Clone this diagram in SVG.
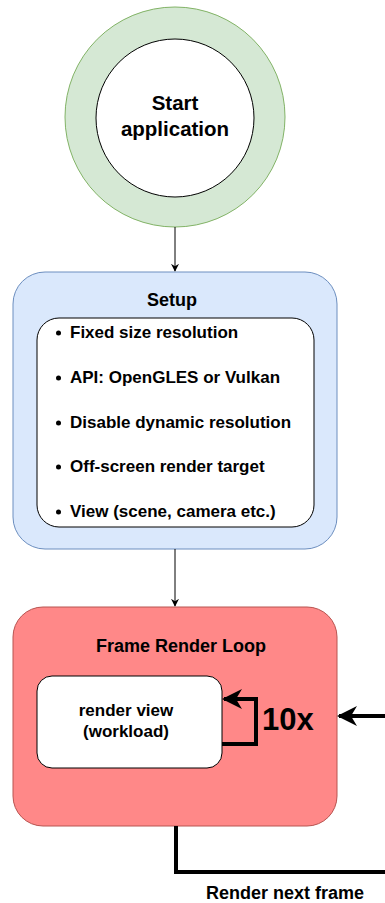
<svg xmlns="http://www.w3.org/2000/svg" width="385" height="903" viewBox="0 0 385 903">
<defs>
<style>
text{font-family:"Liberation Sans",Arial,sans-serif;font-weight:bold;fill:#000}
.b{font-size:17px}
.h{font-size:18px}
.thin{stroke:#000;stroke-width:1;fill:none}
.thick{stroke:#000;stroke-width:4;fill:none}
</style>
<marker id="ah" viewBox="0 0 10 10" refX="9" refY="5" markerWidth="8" markerHeight="8" markerUnits="userSpaceOnUse" orient="auto"><path d="M0,0 L10,5 L0,10 L3,5 Z" fill="#000"/></marker>
<marker id="ahb" viewBox="0 0 10 10" refX="9" refY="5" markerWidth="20" markerHeight="20" markerUnits="userSpaceOnUse" orient="auto"><path d="M0,0 L10,5 L0,10 L3,5 Z" fill="#000"/></marker>
</defs>
<g id="start">
<circle cx="175" cy="117" r="110" fill="#d5e8d4" stroke="#82b366"/>
<circle cx="175" cy="118" r="79" fill="#fff" stroke="#000"/>
<text x="175" y="110" font-size="20.5" text-anchor="middle">Start</text>
<text x="175" y="136" font-size="20.5" text-anchor="middle">application</text>
</g>
<g id="setup">
<rect x="13" y="272" width="324" height="277" rx="32" fill="#dae8fc" stroke="#6c8ebf"/>
<text class="h" x="172" y="306" text-anchor="middle">Setup</text>
<rect x="37" y="318" width="277" height="209" rx="22" fill="#fff" stroke="#000"/>
<circle cx="58.5" cy="333" r="2.5"/><text class="b" x="70" y="338">Fixed size resolution</text>
<circle cx="58.5" cy="378" r="2.5"/><text class="b" x="70" y="383">API: OpenGLES or Vulkan</text>
<circle cx="58.5" cy="423" r="2.5"/><text class="b" x="70" y="428">Disable dynamic resolution</text>
<circle cx="58.5" cy="467" r="2.5"/><text class="b" x="70" y="472">Off-screen render target</text>
<circle cx="58.5" cy="512" r="2.5"/><text class="b" x="70" y="517">View (scene, camera etc.)</text>
</g>
<g id="frame">
<rect x="13" y="607" width="324" height="219" rx="30" fill="#ff8888" stroke="#b85450"/>
<text class="h" x="181" y="652" text-anchor="middle">Frame Render Loop</text>
</g>
<g id="renderview">
<rect x="37" y="676" width="185" height="92" rx="15" fill="#fff" stroke="#000"/>
<text x="126" y="716" font-size="17" text-anchor="middle">render view</text>
<text x="126" y="737" font-size="17" text-anchor="middle">(workload)</text>
</g>
<g id="connectors">
<line class="thin" x1="175" y1="227" x2="175" y2="271" marker-end="url(#ah)"/>
<line class="thin" x1="175" y1="549" x2="175" y2="606" marker-end="url(#ah)"/>
<path class="thick" d="M222,744 H256 V699 H224" marker-end="url(#ahb)"/>
<line class="thick" x1="385" y1="716" x2="339" y2="716" marker-end="url(#ahb)"/>
<path class="thick" d="M176,826 V872 H385"/>
<text x="262" y="730" font-size="31">10x</text>
<text class="h" x="285" y="899" text-anchor="middle">Render next frame</text>
</g>
</svg>
